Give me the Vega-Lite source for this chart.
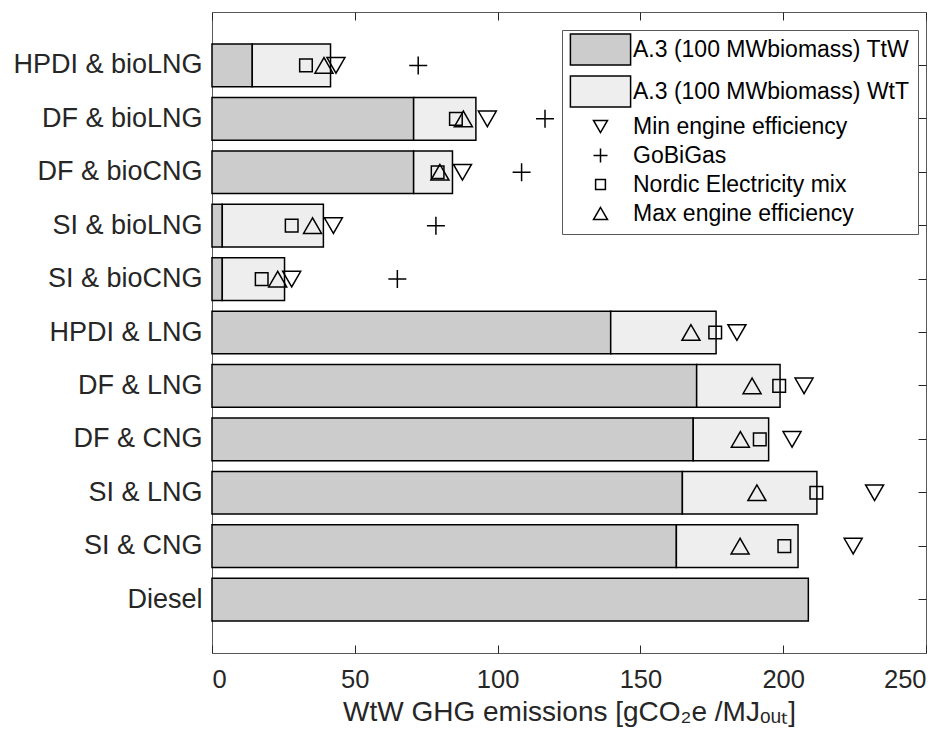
{
  "$schema": "https://vega.github.io/schema/vega-lite/v6.json",
  "width": 714,
  "height": 641,
  "autosize": {"type": "none"},
  "padding": {"left": 212, "top": 12, "right": 26, "bottom": 87},
  "background": "white",
  "datasets": {
    "bars": [
      {"vehicle": "HPDI & bioLNG", "series": "A.3 (100 MWbiomass) TtW", "value": 14.1},
      {"vehicle": "HPDI & bioLNG", "series": "A.3 (100 MWbiomass) WtT", "value": 27.4},
      {"vehicle": "DF & bioLNG", "series": "A.3 (100 MWbiomass) TtW", "value": 70.6},
      {"vehicle": "DF & bioLNG", "series": "A.3 (100 MWbiomass) WtT", "value": 21.8},
      {"vehicle": "DF & bioCNG", "series": "A.3 (100 MWbiomass) TtW", "value": 70.6},
      {"vehicle": "DF & bioCNG", "series": "A.3 (100 MWbiomass) WtT", "value": 13.6},
      {"vehicle": "SI & bioLNG", "series": "A.3 (100 MWbiomass) TtW", "value": 3.6},
      {"vehicle": "SI & bioLNG", "series": "A.3 (100 MWbiomass) WtT", "value": 35.4},
      {"vehicle": "SI & bioCNG", "series": "A.3 (100 MWbiomass) TtW", "value": 3.6},
      {"vehicle": "SI & bioCNG", "series": "A.3 (100 MWbiomass) WtT", "value": 21.8},
      {"vehicle": "HPDI & LNG", "series": "A.3 (100 MWbiomass) TtW", "value": 139.6},
      {"vehicle": "HPDI & LNG", "series": "A.3 (100 MWbiomass) WtT", "value": 36.9},
      {"vehicle": "DF & LNG", "series": "A.3 (100 MWbiomass) TtW", "value": 169.7},
      {"vehicle": "DF & LNG", "series": "A.3 (100 MWbiomass) WtT", "value": 29.2},
      {"vehicle": "DF & CNG", "series": "A.3 (100 MWbiomass) TtW", "value": 168.5},
      {"vehicle": "DF & CNG", "series": "A.3 (100 MWbiomass) WtT", "value": 26.4},
      {"vehicle": "SI & LNG", "series": "A.3 (100 MWbiomass) TtW", "value": 164.7},
      {"vehicle": "SI & LNG", "series": "A.3 (100 MWbiomass) WtT", "value": 47.1},
      {"vehicle": "SI & CNG", "series": "A.3 (100 MWbiomass) TtW", "value": 162.6},
      {"vehicle": "SI & CNG", "series": "A.3 (100 MWbiomass) WtT", "value": 42.6},
      {"vehicle": "Diesel", "series": "A.3 (100 MWbiomass) TtW", "value": 208.8}
    ],
    "points": [
      {"vehicle": "HPDI & bioLNG", "series": "Min engine efficiency", "value": 43.4},
      {"vehicle": "HPDI & bioLNG", "series": "GoBiGas", "value": 72.2},
      {"vehicle": "HPDI & bioLNG", "series": "Nordic Electricity mix", "value": 32.9},
      {"vehicle": "HPDI & bioLNG", "series": "Max engine efficiency", "value": 39.2},
      {"vehicle": "DF & bioLNG", "series": "Min engine efficiency", "value": 96.4},
      {"vehicle": "DF & bioLNG", "series": "GoBiGas", "value": 116.6},
      {"vehicle": "DF & bioLNG", "series": "Nordic Electricity mix", "value": 85.4},
      {"vehicle": "DF & bioLNG", "series": "Max engine efficiency", "value": 88.0},
      {"vehicle": "DF & bioCNG", "series": "Min engine efficiency", "value": 87.7},
      {"vehicle": "DF & bioCNG", "series": "GoBiGas", "value": 108.4},
      {"vehicle": "DF & bioCNG", "series": "Nordic Electricity mix", "value": 79.0},
      {"vehicle": "DF & bioCNG", "series": "Max engine efficiency", "value": 79.8},
      {"vehicle": "SI & bioLNG", "series": "Min engine efficiency", "value": 42.5},
      {"vehicle": "SI & bioLNG", "series": "GoBiGas", "value": 78.4},
      {"vehicle": "SI & bioLNG", "series": "Nordic Electricity mix", "value": 27.9},
      {"vehicle": "SI & bioLNG", "series": "Max engine efficiency", "value": 35.2},
      {"vehicle": "SI & bioCNG", "series": "Min engine efficiency", "value": 27.9},
      {"vehicle": "SI & bioCNG", "series": "GoBiGas", "value": 64.9},
      {"vehicle": "SI & bioCNG", "series": "Nordic Electricity mix", "value": 17.4},
      {"vehicle": "SI & bioCNG", "series": "Max engine efficiency", "value": 23.0},
      {"vehicle": "HPDI & LNG", "series": "Min engine efficiency", "value": 183.8},
      {"vehicle": "HPDI & LNG", "series": "Nordic Electricity mix", "value": 176.2},
      {"vehicle": "HPDI & LNG", "series": "Max engine efficiency", "value": 167.7},
      {"vehicle": "DF & LNG", "series": "Min engine efficiency", "value": 207.3},
      {"vehicle": "DF & LNG", "series": "Nordic Electricity mix", "value": 198.6},
      {"vehicle": "DF & LNG", "series": "Max engine efficiency", "value": 189.1},
      {"vehicle": "DF & CNG", "series": "Min engine efficiency", "value": 203.1},
      {"vehicle": "DF & CNG", "series": "Nordic Electricity mix", "value": 191.8},
      {"vehicle": "DF & CNG", "series": "Max engine efficiency", "value": 185.0},
      {"vehicle": "SI & LNG", "series": "Min engine efficiency", "value": 232.0},
      {"vehicle": "SI & LNG", "series": "Nordic Electricity mix", "value": 211.6},
      {"vehicle": "SI & LNG", "series": "Max engine efficiency", "value": 190.8},
      {"vehicle": "SI & CNG", "series": "Min engine efficiency", "value": 224.5},
      {"vehicle": "SI & CNG", "series": "Nordic Electricity mix", "value": 200.4},
      {"vehicle": "SI & CNG", "series": "Max engine efficiency", "value": 184.9}
    ]
  },
  "layer": [
    {
      "data": {"name": "bars"},
      "mark": {"type": "bar", "stroke": "black", "strokeWidth": 1.5, "opacity": 1},
      "encoding": {
        "y": {
          "field": "vehicle", "type": "nominal",
          "sort": ["HPDI & bioLNG", "DF & bioLNG", "DF & bioCNG", "SI & bioLNG", "SI & bioCNG", "HPDI & LNG", "DF & LNG", "DF & CNG", "SI & LNG", "SI & CNG", "Diesel"],
          "scale": {"paddingInner": 0.2, "paddingOuter": 0.6},
          "axis": {"orient": "left", "ticks": false, "labelPadding": 10, "labelFontSize": 27, "labelLimit": 300, "title": null}
        },
        "x": {
          "field": "value", "type": "quantitative", "stack": "zero",
          "scale": {"domain": [0, 250], "nice": false},
          "axis": {"orient": "bottom", "values": [0, 50, 100, 150, 200, 250], "tickSize": -8, "labelPadding": 22, "labelFontSize": 25.5, "title": "WtW GHG emissions [gCO₂e /MJₒᵤₜ]", "titleFontSize": 28, "titlePadding": 6}
        },
        "order": {"field": "series", "sort": "ascending"},
        "color": {
          "field": "series", "type": "nominal",
          "scale": {
            "domain": ["A.3 (100 MWbiomass) TtW", "A.3 (100 MWbiomass) WtT", "Min engine efficiency", "GoBiGas", "Nordic Electricity mix", "Max engine efficiency"],
            "range": ["#cccccc", "#eeeeee", "transparent", "transparent", "transparent", "transparent"]
          },
          "legend": {
            "title": null,
            "encode": {"symbols": {"update": {"fill": {"scale": "color", "field": "value"}, "stroke": {"value": "black"}, "strokeWidth": {"value": 1.5}, "shape": {"scale": "shape", "field": "value"}}}}
          }
        }
      }
    },
    {
      "data": {"name": "points"},
      "mark": {"type": "point", "filled": false, "stroke": "black", "strokeWidth": 1.5, "size": 324, "opacity": 1},
      "encoding": {
        "y": {
          "field": "vehicle", "type": "nominal",
          "sort": ["HPDI & bioLNG", "DF & bioLNG", "DF & bioCNG", "SI & bioLNG", "SI & bioCNG", "HPDI & LNG", "DF & LNG", "DF & CNG", "SI & LNG", "SI & CNG", "Diesel"],
          "axis": {"orient": "right", "labels": false, "tickSize": -8, "title": null}
        },
        "x": {
          "field": "value", "type": "quantitative",
          "axis": {"orient": "top", "labels": false, "values": [0, 50, 100, 150, 200, 250], "tickSize": -8, "title": null}
        },
        "shape": {
          "field": "series", "type": "nominal",
          "scale": {
            "domain": ["A.3 (100 MWbiomass) TtW", "A.3 (100 MWbiomass) WtT", "Min engine efficiency", "GoBiGas", "Nordic Electricity mix", "Max engine efficiency"],
            "range": ["M-4.3,-2.2H4.3V2.2H-4.3Z", "M-4.3,-2.2H4.3V2.2H-4.3Z", "triangle-down", "M-1,0H1M0,-1V1", "M-0.7,-0.7H0.7V0.7H-0.7Z", "triangle-up"]
          },
          "legend": {
            "title": null,
            "encode": {"symbols": {"update": {"fill": {"scale": "color", "field": "value"}, "stroke": {"value": "black"}, "strokeWidth": {"value": 1.5}, "shape": {"scale": "shape", "field": "value"}}}}
          }
        }
      }
    }
  ],
  "resolve": {"axis": {"x": "independent", "y": "independent"}},
  "config": {
    "font": "Liberation Sans",
    "view": {"stroke": "#595959", "strokeWidth": 1},
    "axis": {
      "domain": false, "grid": false,
      "labelColor": "#262626", "tickColor": "#262626", "titleColor": "#262626",
      "labelFontSize": 25, "titleFontSize": 25, "titleFontWeight": "normal",
      "labelFont": "Liberation Sans", "titleFont": "Liberation Sans", "tickWidth": 1
    },
    "legend": {
      "orient": "none", "legendX": 350, "legendY": 18,
      "strokeColor": "#595959", "fillColor": "white", "padding": 8,
      "labelFontSize": 23, "labelFont": "Liberation Sans", "labelColor": "black",
      "symbolSize": 196, "symbolStrokeColor": "black", "symbolStrokeWidth": 1.5,
      "rowPadding": 5, "labelOffset": 21, "symbolOffset": 19, "labelLimit": 400
    }
  }
}
